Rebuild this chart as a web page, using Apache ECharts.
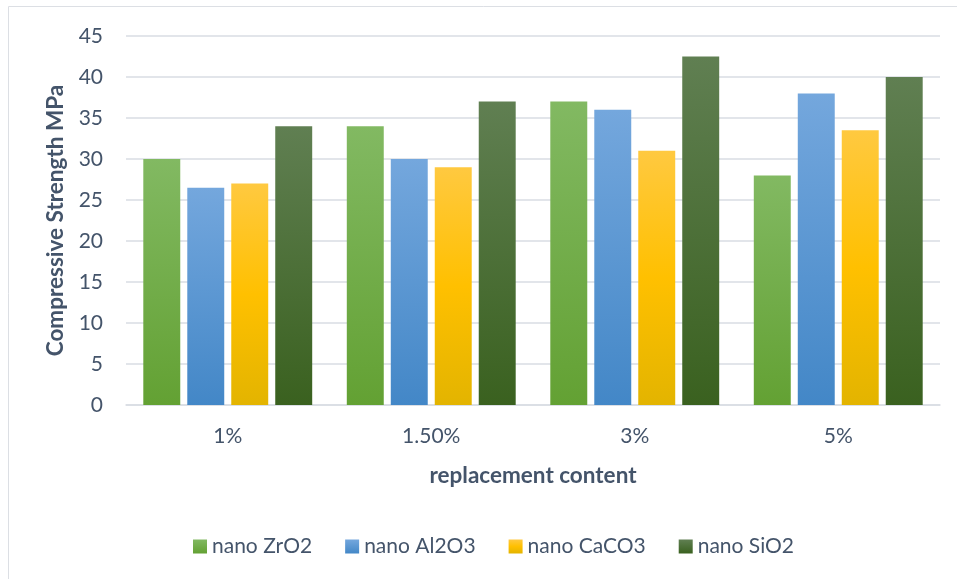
<!DOCTYPE html>
<html><head><meta charset="utf-8">
<script src="https://cdn.jsdelivr.net/npm/echarts@6/dist/echarts.min.js"></script>
<style>html,body{margin:0;padding:0;background:#fff}#c{width:957px;height:579px}</style>
</head><body><div id="c"></div>
<script>
const categories = ['1%', '1.50%', '3%', '5%'];
const zro2 = [30, 34, 37, 28];
const al2o3 = [26.5, 30, 36, 38];
const caco3 = [27, 29, 31, 33.5];
const sio2 = [34, 37, 42.5, 40];
const seriesNames = ['nano ZrO2', 'nano Al2O3', 'nano CaCO3', 'nano SiO2'];

function g2(a, b){ return new echarts.graphic.LinearGradient(0,0,0,1,[{offset:0,color:a},{offset:1,color:b}]); }
const fills = [
  g2('#82b962', '#63a133'),
  g2('#74a7dd', '#4387c7'),
  new echarts.graphic.LinearGradient(0,0,0,1,[{offset:0,color:'#ffc940'},{offset:0.5,color:'#ffc000'},{offset:1,color:'#e3b400'}]),
  g2('#607f52', '#3a611f')
];
const data = [zro2, al2o3, caco3, sio2];
const txt = '#44546a';
const font = 'Lato, "Open Sans", sans-serif';

const chart = echarts.init(document.getElementById('c'), null, {renderer:'canvas'});
chart.setOption({
  animation: false,
  textStyle: {fontFamily: font},
  graphic: [{type:'rect', shape:{x:8.5, y:6.5, width:2000, height:2000}, style:{fill:'none', stroke:'#dcdfe4', lineWidth:1}, silent:true, z:-10}],
  grid: {left:126, right:17, top:36, bottom:174},
  legend: {
    top: 531, left: 188, itemWidth: 14, itemHeight: 14, itemGap: 33,
    icon: 'rect',
    textStyle: {color: txt, fontSize: 21, fontFamily: font},
    data: seriesNames
  },
  xAxis: {
    type: 'category', data: categories,
    name: 'replacement content', nameLocation: 'middle', nameGap: 59,
    nameTextStyle: {color: txt, fontSize: 22.5, fontWeight: 'bold', fontFamily: font},
    axisLine: {lineStyle: {color: '#d9dde3', width: 1.5}},
    axisTick: {show: false},
    axisLabel: {color: txt, fontSize: 21, margin: 21, fontFamily: font}
  },
  yAxis: {
    type: 'value', min: 0, max: 45, interval: 5,
    name: 'Compressive Strength MPa', nameLocation: 'middle', nameGap: 57, nameRotate: 90,
    nameTextStyle: {color: txt, fontSize: 22.5, fontWeight: 'bold', fontFamily: font},
    axisLine: {show: false}, axisTick: {show: false},
    axisLabel: {color: txt, fontSize: 21, margin: 23, fontFamily: font},
    splitLine: {lineStyle: {color: '#d9dde3', width: 1.5}}
  },
  series: seriesNames.map((n, i) => ({
    name: n, type: 'bar', data: data[i],
    barGap: '19%', barCategoryGap: '17%',
    itemStyle: {color: fills[i]}
  }))
});
</script></body></html>
